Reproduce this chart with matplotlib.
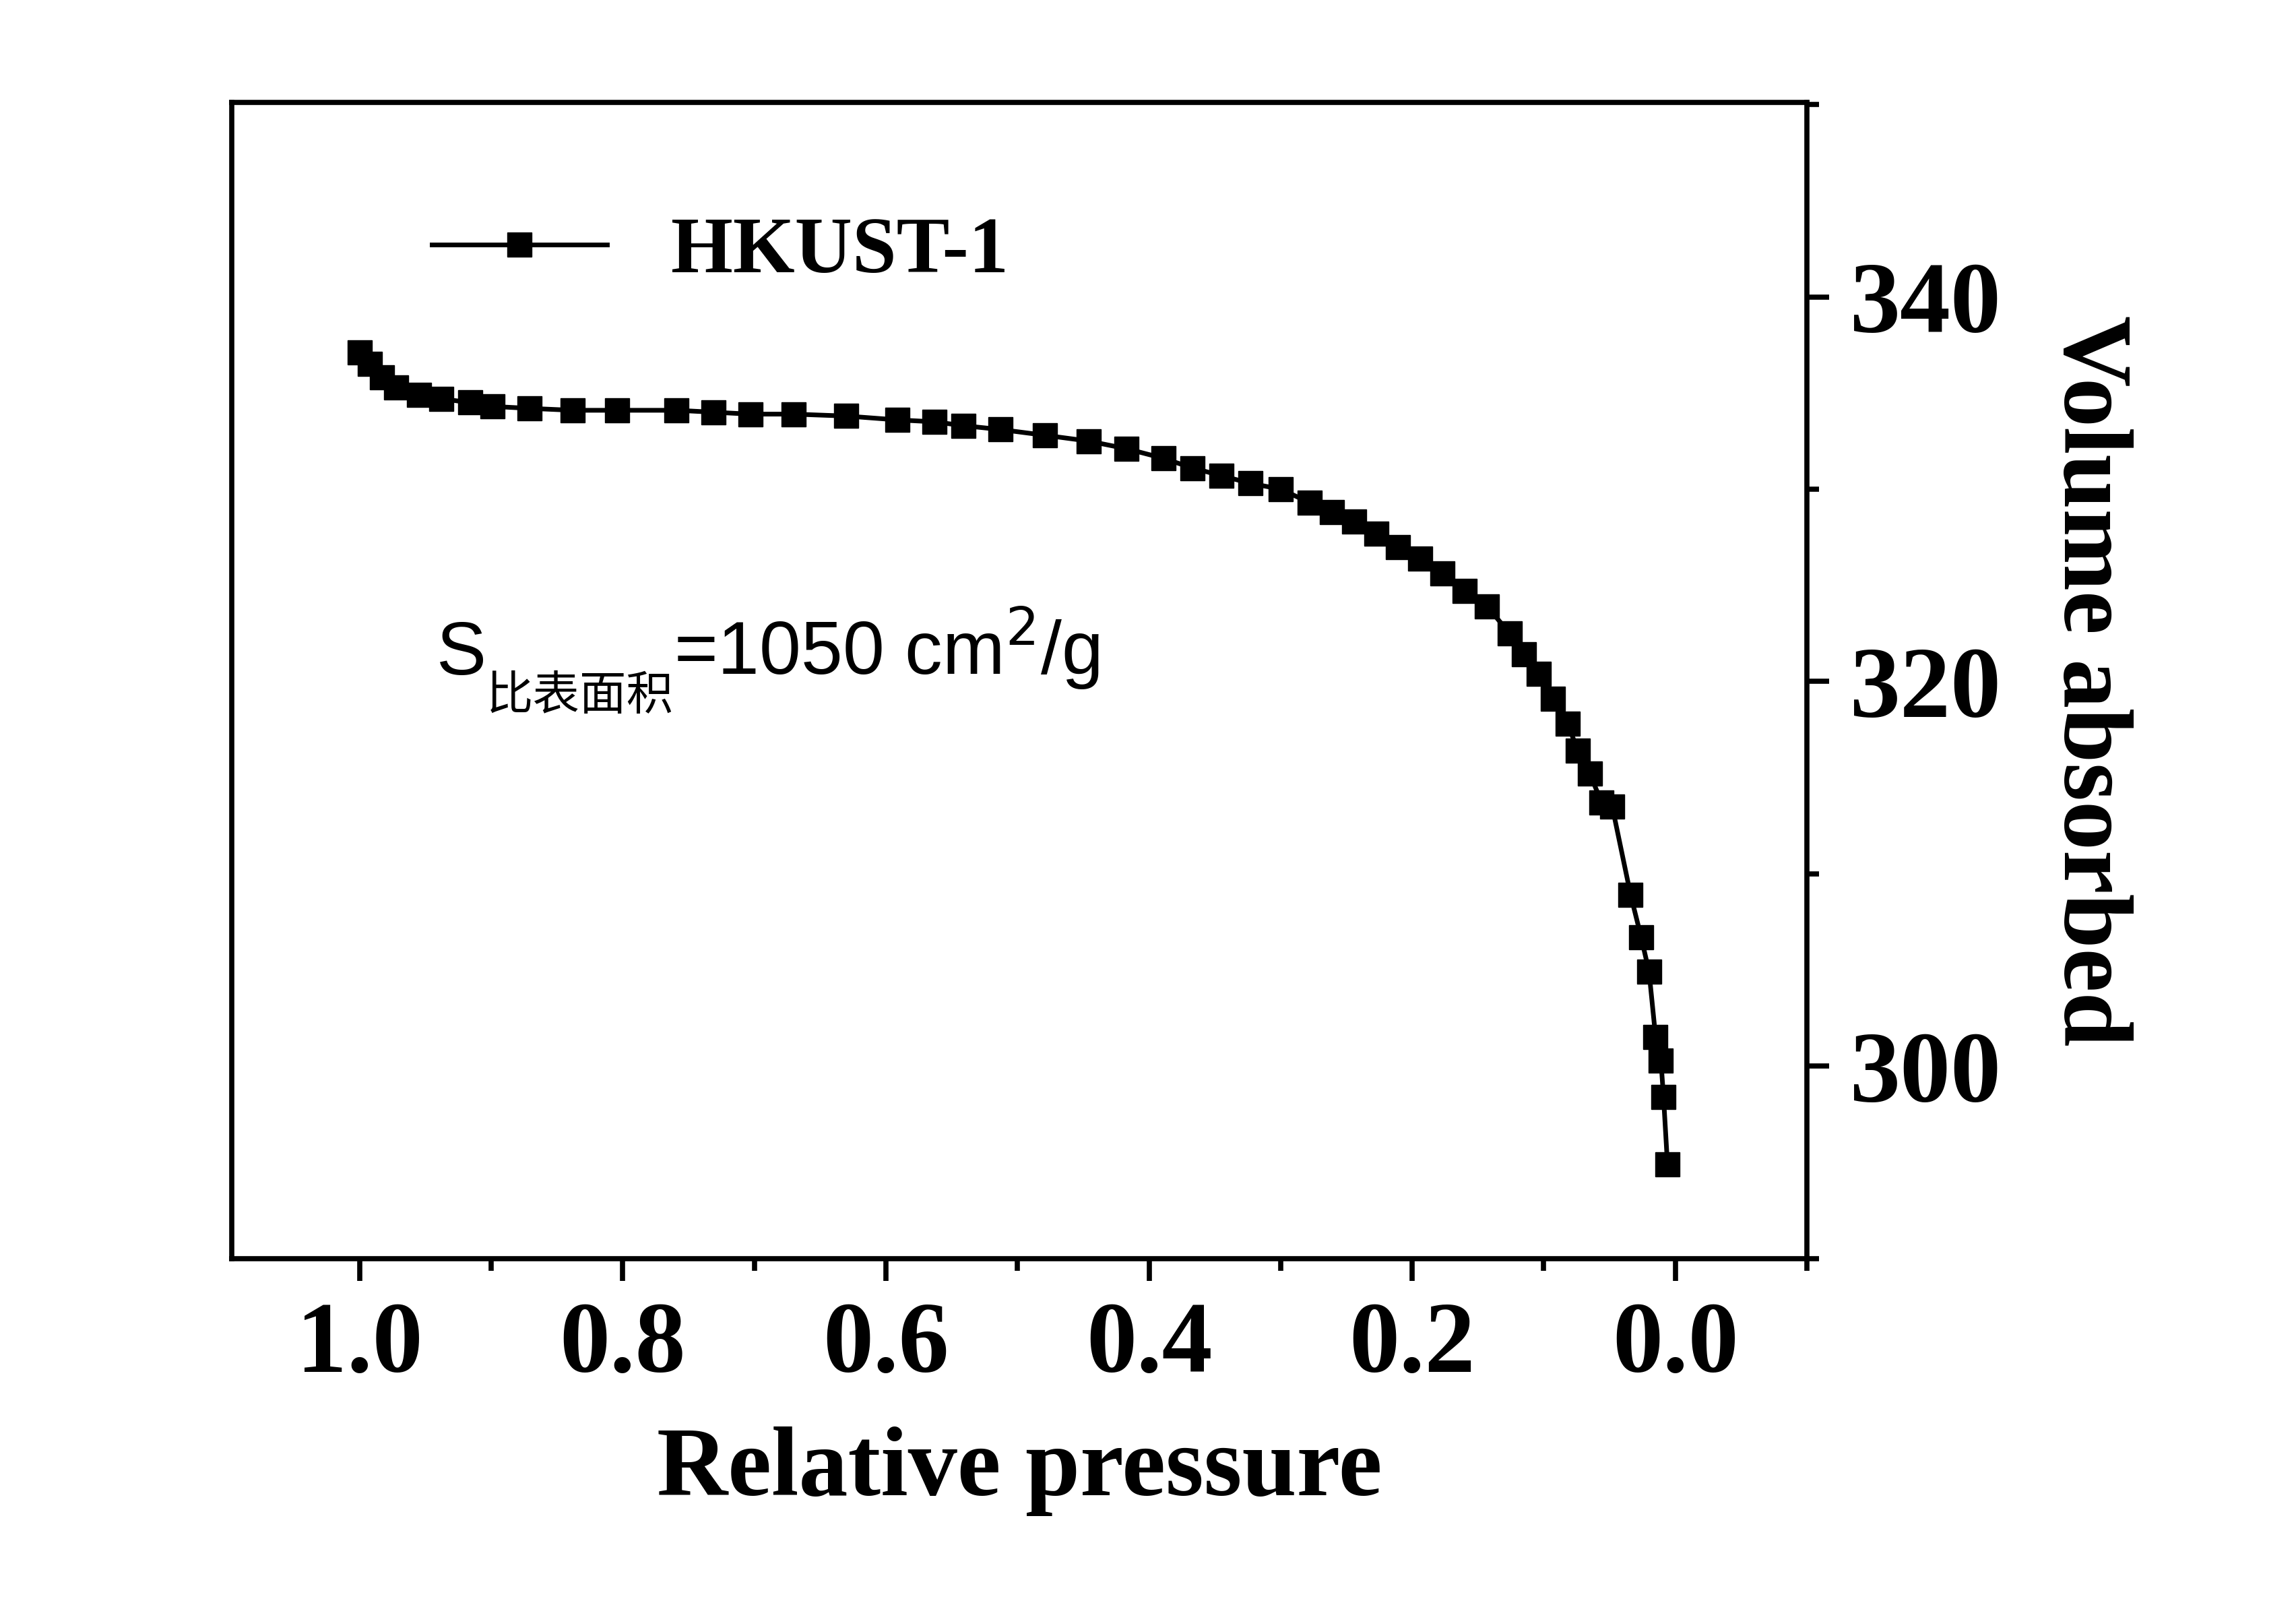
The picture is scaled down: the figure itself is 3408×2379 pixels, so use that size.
import matplotlib
matplotlib.use("Agg")
import matplotlib.pyplot as plt
from matplotlib.ticker import MultipleLocator

pressure = [1.0, 0.992, 0.983, 0.972, 0.955, 0.938, 0.916, 0.899, 0.871, 0.838, 0.804, 0.759,
            0.731, 0.703, 0.670, 0.630, 0.591, 0.563, 0.541, 0.513, 0.479, 0.446, 0.417, 0.389,
            0.367, 0.345, 0.323, 0.300, 0.278, 0.261, 0.244, 0.227, 0.211, 0.194, 0.177, 0.160,
            0.143, 0.126, 0.115, 0.104, 0.093, 0.082, 0.074, 0.065, 0.056, 0.048, 0.034, 0.026,
            0.020, 0.015, 0.011, 0.009, 0.006]
volume = [337.1, 336.5, 335.8, 335.3, 334.9, 334.7, 334.5, 334.3, 334.2, 334.1, 334.1, 334.1,
          334.0, 333.9, 333.9, 333.8, 333.6, 333.5, 333.3, 333.1, 332.8, 332.5, 332.1, 331.6,
          331.1, 330.7, 330.3, 330.0, 329.3, 328.8, 328.3, 327.7, 327.0, 326.4, 325.6, 324.7,
          323.9, 322.5, 321.4, 320.4, 319.1, 317.8, 316.4, 315.2, 313.7, 313.5, 308.9, 306.7,
          304.9, 301.5, 300.3, 298.4, 294.9]
series_name = "HKUST-1"

serif = "Liberation Serif"
fig = plt.figure(figsize=(34.08, 23.79), dpi=100)
ax = fig.add_axes([0.101, 0.215, 0.686, 0.721])
ax.plot(pressure, volume, color="black", lw=5, marker="s", ms=26, label=series_name)
ax.set_xlim(1.097, -0.1)
ax.set_ylim(290, 350.1)
ax.xaxis.set_major_locator(MultipleLocator(0.2))
ax.xaxis.set_minor_locator(MultipleLocator(0.1))
ax.yaxis.set_major_locator(MultipleLocator(20))
ax.yaxis.set_minor_locator(MultipleLocator(10))
ax.yaxis.tick_right()
ax.yaxis.set_label_position("right")
ax.tick_params(axis="both", which="both", direction="out", width=5.5)
ax.tick_params(axis="both", which="major", length=24, pad=22)
ax.tick_params(axis="both", which="minor", length=13)
ax.tick_params(left=False, right=True, top=False, bottom=True)
for s in ax.spines.values():
    s.set_linewidth(5.5)
ax.set_xticks([1.0, 0.8, 0.6, 0.4, 0.2, 0.0])
ax.set_xticklabels(["1.0", "0.8", "0.6", "0.4", "0.2", "0.0"])
for lab in ax.get_xticklabels() + ax.get_yticklabels():
    lab.set_fontfamily(serif); lab.set_fontweight("bold"); lab.set_fontsize(108)
ax.set_xlabel("Relative pressure", fontfamily=serif, fontweight="bold", fontsize=105, labelpad=35)
ax.set_ylabel("Volume absorbed", fontfamily=serif, fontweight="bold", fontsize=105, labelpad=45, rotation=270, va="bottom")
ax.legend(loc="center", bbox_to_anchor=(0.31, 0.87), frameon=False,
          prop={"family": serif, "weight": "bold", "size": 85}, handlelength=2.2)

fam = ["Liberation Sans", "Noto Sans CJK SC"]
fig.canvas.draw()
r = fig.canvas.get_renderer()
t1 = ax.text(0.13, 0.505, "S", transform=ax.transAxes, fontsize=80, family=fam, va="baseline")
bb = t1.get_window_extent(r).transformed(ax.transAxes.inverted())
t2 = ax.text(bb.x1, 0.475, "比表面积", transform=ax.transAxes, fontsize=50, family=fam, va="baseline")
bb2 = t2.get_window_extent(r).transformed(ax.transAxes.inverted())
ax.text(bb2.x1, 0.505, "=1050 cm$^2$/g", transform=ax.transAxes, fontsize=80, family=fam, va="baseline")

fig.savefig("out.png", dpi=100)
